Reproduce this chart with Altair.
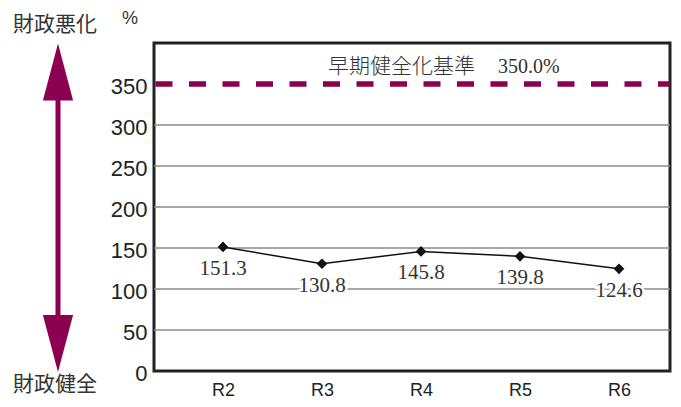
import altair as alt
import pandas as pd

years = ["R2", "R3", "R4", "R5", "R6"]
ratios = [151.3, 130.8, 145.8, 139.8, 124.6]
y_ticks = [0, 50, 100, 150, 200, 250, 300, 350]
grid_values = [50, 100, 150, 200, 250, 300]
threshold = 350.0
threshold_label = "早期健全化基準"
threshold_value_label = "350.0%"

PURPLE = "#8c0051"
W, H = 516, 328

df = pd.DataFrame({"year": years, "ratio": ratios, "label": [f"{v:.1f}" for v in ratios]})
grid_df = pd.DataFrame({"g": grid_values})
one = pd.DataFrame({"a": [0]})

x_enc = alt.X("year:N", sort=years, title=None,
              scale=alt.Scale(type="point", range=[69, 465], padding=0),
              axis=alt.Axis(labelAngle=0, ticks=False, domain=False, labelFontSize=18,
                            labelFont="Liberation Sans", labelColor="#222", labelPadding=10,
                            grid=False))
y_scale = alt.Scale(domain=[0, 400], nice=False, zero=True)

grid = alt.Chart(grid_df).mark_rule(color="#8a8a8a", strokeWidth=1.5).encode(
    y=alt.Y("g:Q", scale=y_scale, title=None,
            axis=alt.Axis(values=y_ticks, ticks=False, domain=False, grid=False,
                          labelFontSize=22, labelFont="Liberation Sans", labelColor="#222",
                          labelPadding=7, labelOffset=2))
)

dash = alt.Chart(one).mark_rule(color=PURPLE, strokeWidth=5.5, strokeDash=[17, 16.5],
                                strokeDashOffset=5).encode(
    y=alt.datum(threshold, scale=y_scale)
)

ann1 = alt.Chart(one).mark_text(text=threshold_label, font="Noto Sans CJK JP", fontSize=21,
                                fontWeight=300, color="#333", align="left", baseline="middle").encode(
    x=alt.value(174), y=alt.value(24)
)
ann2 = alt.Chart(one).mark_text(text=threshold_value_label, font="Liberation Serif", fontSize=20,
                                color="#333", align="left", baseline="middle").encode(
    x=alt.value(344), y=alt.value(24)
)

base = alt.Chart(df).encode(x=x_enc, y=alt.Y("ratio:Q", scale=y_scale))
line = base.mark_line(color="#111", strokeWidth=1.5)
pts = base.mark_point(shape="diamond", filled=True, size=115, color="#111", opacity=1)
halo = base.mark_text(font="Liberation Serif", fontSize=21, dy=22, stroke="white",
                      strokeWidth=5, color="white").encode(text="label:N")
lbl = base.mark_text(font="Liberation Serif", fontSize=21, dy=22, color="#333").encode(text="label:N")

# left-side annotation: arrow and captions
shaft = alt.Chart(one).mark_rule(color=PURPLE, strokeWidth=5).encode(
    x=alt.value(-96), y=alt.value(50), y2=alt.value(280))
head_up = alt.Chart(one).mark_point(shape="M0,-1L0.53,1L-0.53,1Z", filled=True, size=57 * 57,
                                    color=PURPLE, opacity=1).encode(
    x=alt.value(-96), y=alt.value(29))
head_dn = alt.Chart(one).mark_point(shape="M0,1L0.53,-1L-0.53,-1Z", filled=True, size=57 * 57,
                                    color=PURPLE, opacity=1).encode(
    x=alt.value(-96), y=alt.value(300.5))
top_txt = alt.Chart(one).mark_text(text="財政悪化", font="Noto Sans CJK JP", fontSize=21,
                                   color="#333", align="center", baseline="middle").encode(
    x=alt.value(-99), y=alt.value(-18))
bot_txt = alt.Chart(one).mark_text(text="財政健全", font="Noto Sans CJK JP", fontSize=21,
                                   color="#333", align="center", baseline="middle").encode(
    x=alt.value(-99), y=alt.value(342))
pct = alt.Chart(one).mark_text(text="%", font="Liberation Sans", fontSize=18,
                               color="#333", align="center", baseline="middle").encode(
    x=alt.value(-24), y=alt.value(-24))

chart = alt.layer(
    grid, dash, ann1, ann2, line, pts, halo, lbl,
    shaft, head_up, head_dn, top_txt, bot_txt, pct
).properties(
    width=W, height=H,
    background="white",
    autosize=alt.AutoSizeParams(type="none"),
    padding={"left": 146, "top": 35, "right": 3, "bottom": 28},
).configure_view(stroke="#222", strokeWidth=3)

chart.save("out.html", embed_options={"renderer": "svg", "actions": False})
